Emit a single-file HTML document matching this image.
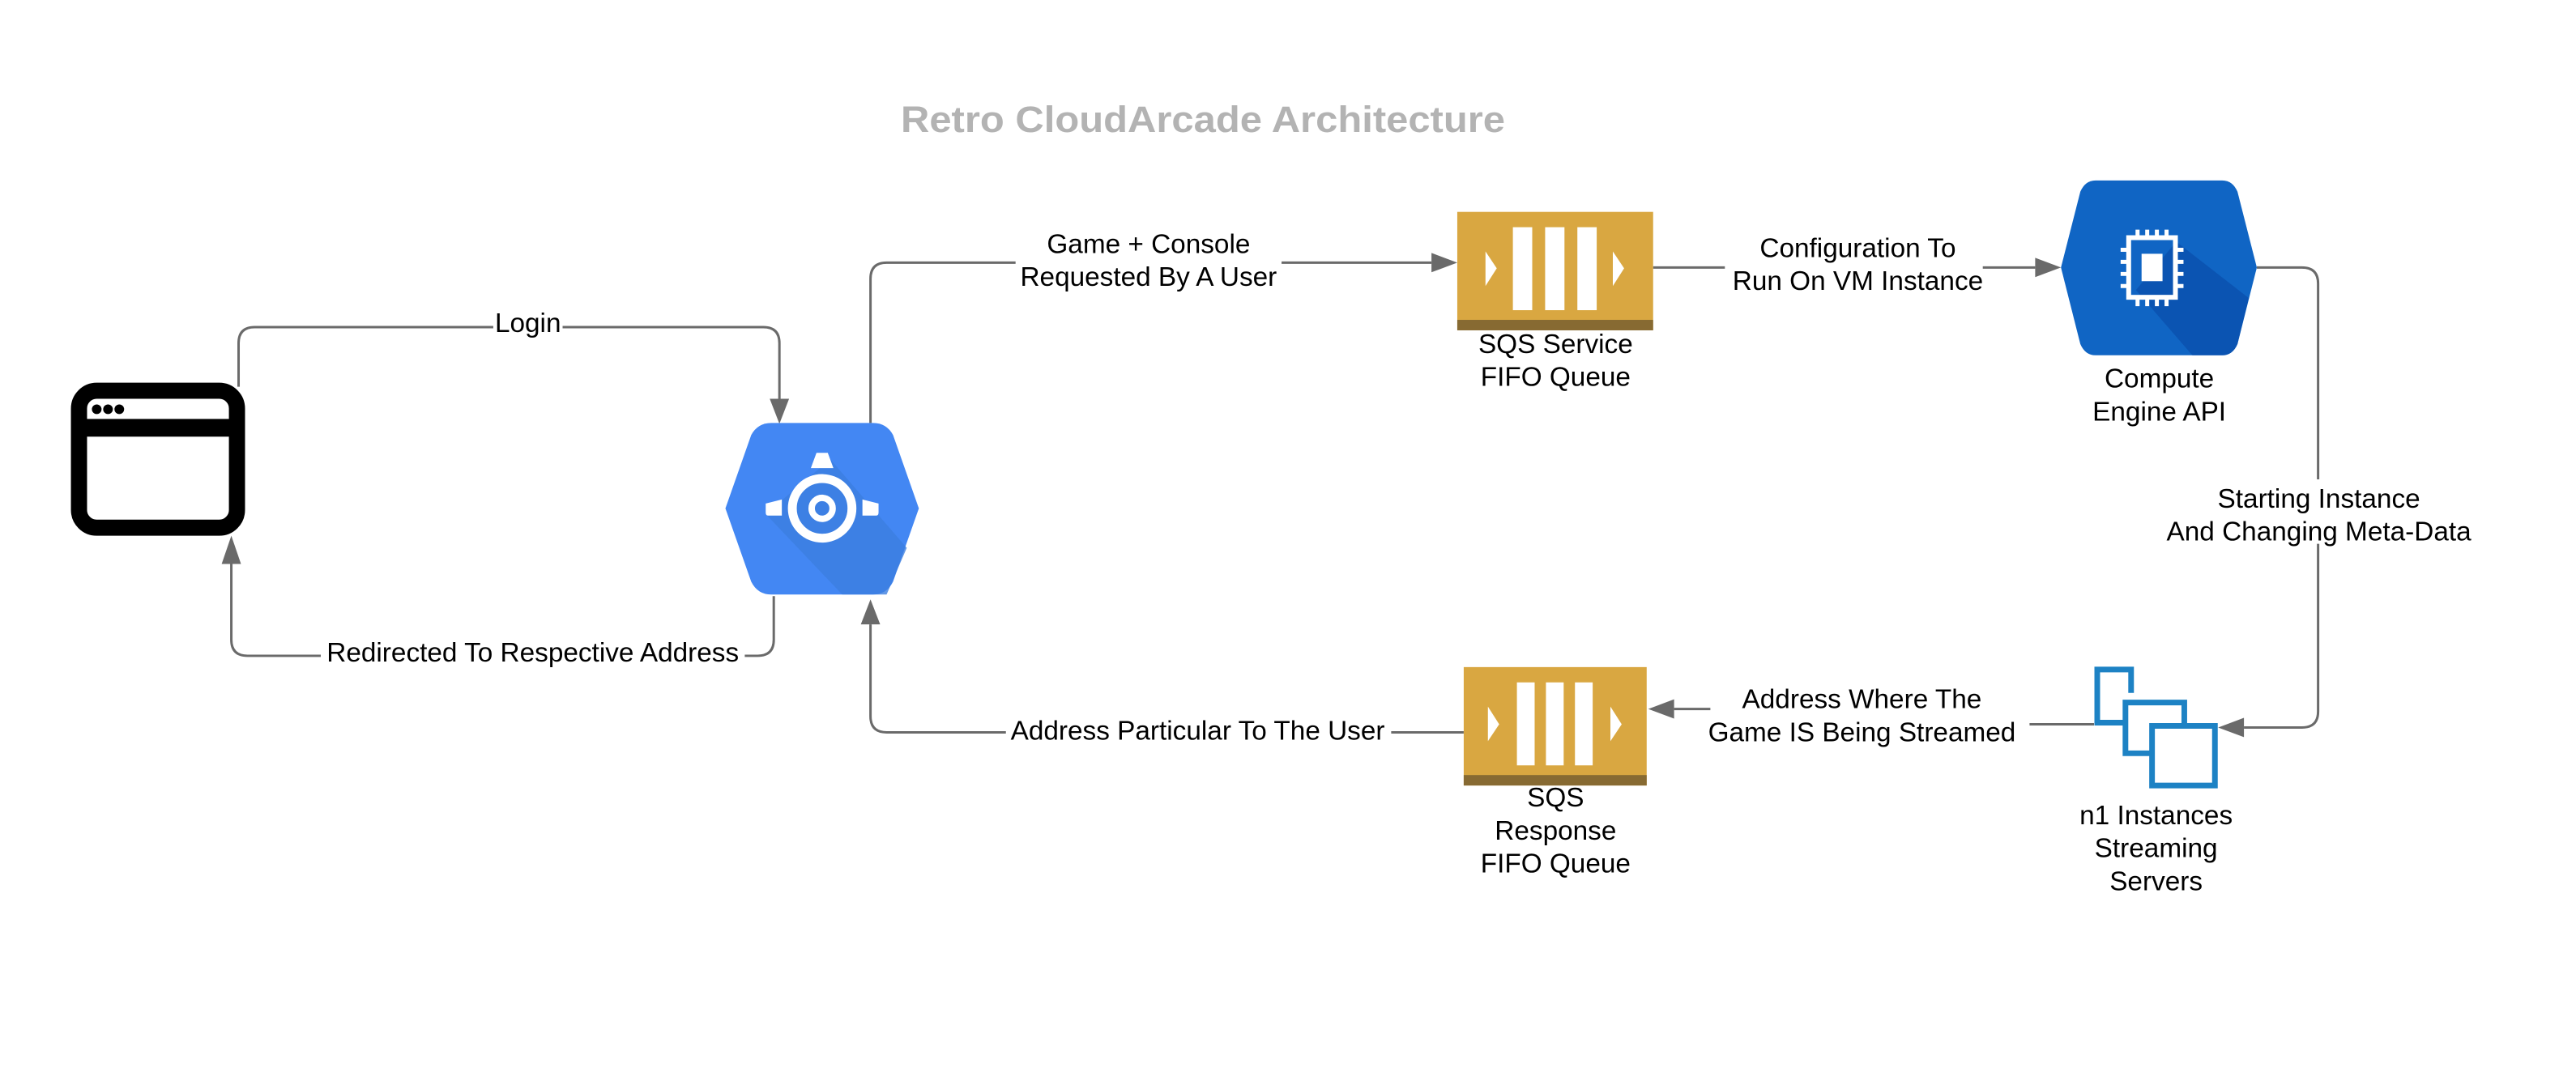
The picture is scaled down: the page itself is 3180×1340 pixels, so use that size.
<!DOCTYPE html>
<html><head><meta charset="utf-8"><style>
html,body{margin:0;padding:0;background:#fff;}
svg{display:block;}
text{font-family:"Liberation Sans",sans-serif;}
</style></head><body>
<svg width="3180" height="1340" viewBox="0 0 3180 1340" xmlns="http://www.w3.org/2000/svg">
<rect width="3180" height="1340" fill="#fff"/>
<text x="1112" y="163" font-size="45" font-weight="bold" fill="#b3b3b3" textLength="746" lengthAdjust="spacingAndGlyphs">Retro CloudArcade Architecture</text>
<g transform="scale(0.995)">
<g fill="none" stroke="#6a6a6a" stroke-width="3">
<path d="M296 480 V426 Q296 406 316 406 H947 Q967 406 967 426 V495"/>
<path d="M960 740 V794 Q960 814 940 814 H307 Q287 814 287 794 V700"/>
<path d="M1080 525 V346 Q1080 326 1100 326 H1776"/>
<path d="M2051 332 H2525"/>
<path d="M2800 332 H2856 Q2876 332 2876 352 V883 Q2876 903 2856 903 H2784"/>
<path d="M2598 899 H2420 M2420 880 H2077"/>
<path d="M1816 909 H1100 Q1080 909 1080 889 V775"/>
</g>
<g fill="#6a6a6a">
<polygon points="955,495 979,495 967,526"/>
<polygon points="275,700 299,700 287,665"/>
<polygon points="1776,314 1776,338 1808,326"/>
<polygon points="2525,320 2525,344 2557,332"/>
<polygon points="2784,891 2784,915 2752,903"/>
<polygon points="2077,868 2077,892 2045,880"/>
<polygon points="1068,775 1092,775 1080,744"/>
</g>
<g fill="#fff">
<rect x="612" y="380" width="86" height="40"/>
<rect x="398" y="788" width="526" height="40"/>
<rect x="1260" y="280" width="330" height="80"/>
<rect x="2140" y="285" width="320" height="80"/>
<rect x="2670" y="595" width="400" height="80"/>
<rect x="2122" y="845" width="396" height="80"/>
<rect x="1248" y="885" width="478" height="40"/>
</g>
<g font-size="33.5" fill="#000" text-anchor="middle">
<text x="655" y="412">Login</text>
<text x="661" y="821">Redirected To Respective Address</text>
<text x="1425" y="314">Game + Console</text>
<text x="1425" y="355">Requested By A User</text>
<text x="2305" y="319">Configuration To</text>
<text x="2305" y="360">Run On VM Instance</text>
<text x="2877" y="630">Starting Instance</text>
<text x="2877" y="671">And Changing Meta-Data</text>
<text x="2310" y="879">Address Where The</text>
<text x="2310" y="920">Game IS Being Streamed</text>
<text x="1486" y="918">Address Particular To The User</text>
<text x="1930" y="438">SQS Service</text>
<text x="1930" y="479">FIFO Queue</text>
<text x="2679" y="481">Compute</text>
<text x="2679" y="522">Engine API</text>
<text x="1930" y="1001">SQS</text>
<text x="1930" y="1042">Response</text>
<text x="1930" y="1083">FIFO Queue</text>
<text x="2675" y="1023">n1 Instances</text>
<text x="2675" y="1064">Streaming</text>
<text x="2675" y="1105">Servers</text>
</g>
<rect x="98" y="485" width="196" height="170" rx="22" fill="none" stroke="#000" stroke-width="20"/>
<rect x="98" y="520" width="196" height="22" fill="#000"/>
<circle cx="120" cy="508" r="6" fill="#000"/><circle cx="134" cy="508" r="6" fill="#000"/><circle cx="148" cy="508" r="6" fill="#000"/>
<path d="M957 525 H1083 Q1100 525 1108 540 L1140 631 L1108 722 Q1100 738 1083 738 H957 Q940 738 932 722 L900 631 L932 540 Q940 525 957 525 Z" fill="#4387f3"/>
<path d="M1030 570 L1125 680 L1100 738 H1045 L950 638 Z" fill="#3c7ee0" opacity="0.8"/>
<g fill="#fff">
<circle cx="1020" cy="631" r="37" fill="none" stroke="#fff" stroke-width="11"/>
<circle cx="1020" cy="631" r="13" fill="none" stroke="#fff" stroke-width="8"/>
<path d="M1013 562 H1027 L1034 581 H1006 Z"/>
<path d="M950 625 L970 620 V640 H953 Q950 640 950 636 Z"/>
<path d="M1090 625 L1070 620 V640 H1087 Q1090 640 1090 636 Z"/>
</g>
<rect x="1808" y="263" width="243" height="147" fill="#d9a741"/>
<rect x="1808" y="397" width="243" height="13" fill="#876a32"/>
<g fill="#fff">
<rect x="1877" y="282" width="24" height="103"/><rect x="1917" y="282" width="24" height="103"/><rect x="1957" y="282" width="24" height="103"/>
<polygon points="1843,312 1857,333 1843,355"/><polygon points="2001,312 2015,333 2001,355"/>
</g>
<rect x="1816" y="828" width="227" height="147" fill="#d9a741"/>
<rect x="1816" y="962" width="227" height="13" fill="#876a32"/>
<g fill="#fff">
<rect x="1882" y="847" width="22" height="103"/><rect x="1918" y="847" width="22" height="103"/><rect x="1954" y="847" width="22" height="103"/>
<polygon points="1846,877 1860,899 1846,920"/><polygon points="1998,877 2012,899 1998,920"/>
</g>
<path d="M2600 224 H2757 Q2770 224 2776 238 L2800 332 L2776 427 Q2770 441 2757 441 H2600 Q2587 441 2581 427 L2557 332 L2581 238 Q2587 224 2600 224 Z" fill="#1065c4"/>
<path d="M2700 300 L2790 370 L2776 427 Q2770 441 2757 441 H2720 L2650 360 Z" fill="#0b52b0" opacity="0.9"/>
<rect x="2641" y="295" width="58" height="74" fill="none" stroke="#fff" stroke-width="6"/>
<rect x="2657" y="315" width="26" height="34" fill="#fff"/>
<g stroke="#fff" stroke-width="5">
<path d="M2652 285 V295 M2664 285 V295 M2676 285 V295 M2688 285 V295 M2652 369 V380 M2664 369 V380 M2676 369 V380 M2688 369 V380 M2631 310 H2641 M2631 325 H2641 M2631 340 H2641 M2631 355 H2641 M2699 310 H2709 M2699 325 H2709 M2699 340 H2709 M2699 355 H2709"/>
</g>
<g fill="#fff" stroke="#1d82c4" stroke-width="7">
<path d="M2637 897 H2602 V831 H2644 V860"/>
<path d="M2680 901 H2710 V872 H2637 V935 H2670"/>
<rect x="2670" y="901" width="78" height="74"/>
</g>
</g>
</svg>
</body></html>
